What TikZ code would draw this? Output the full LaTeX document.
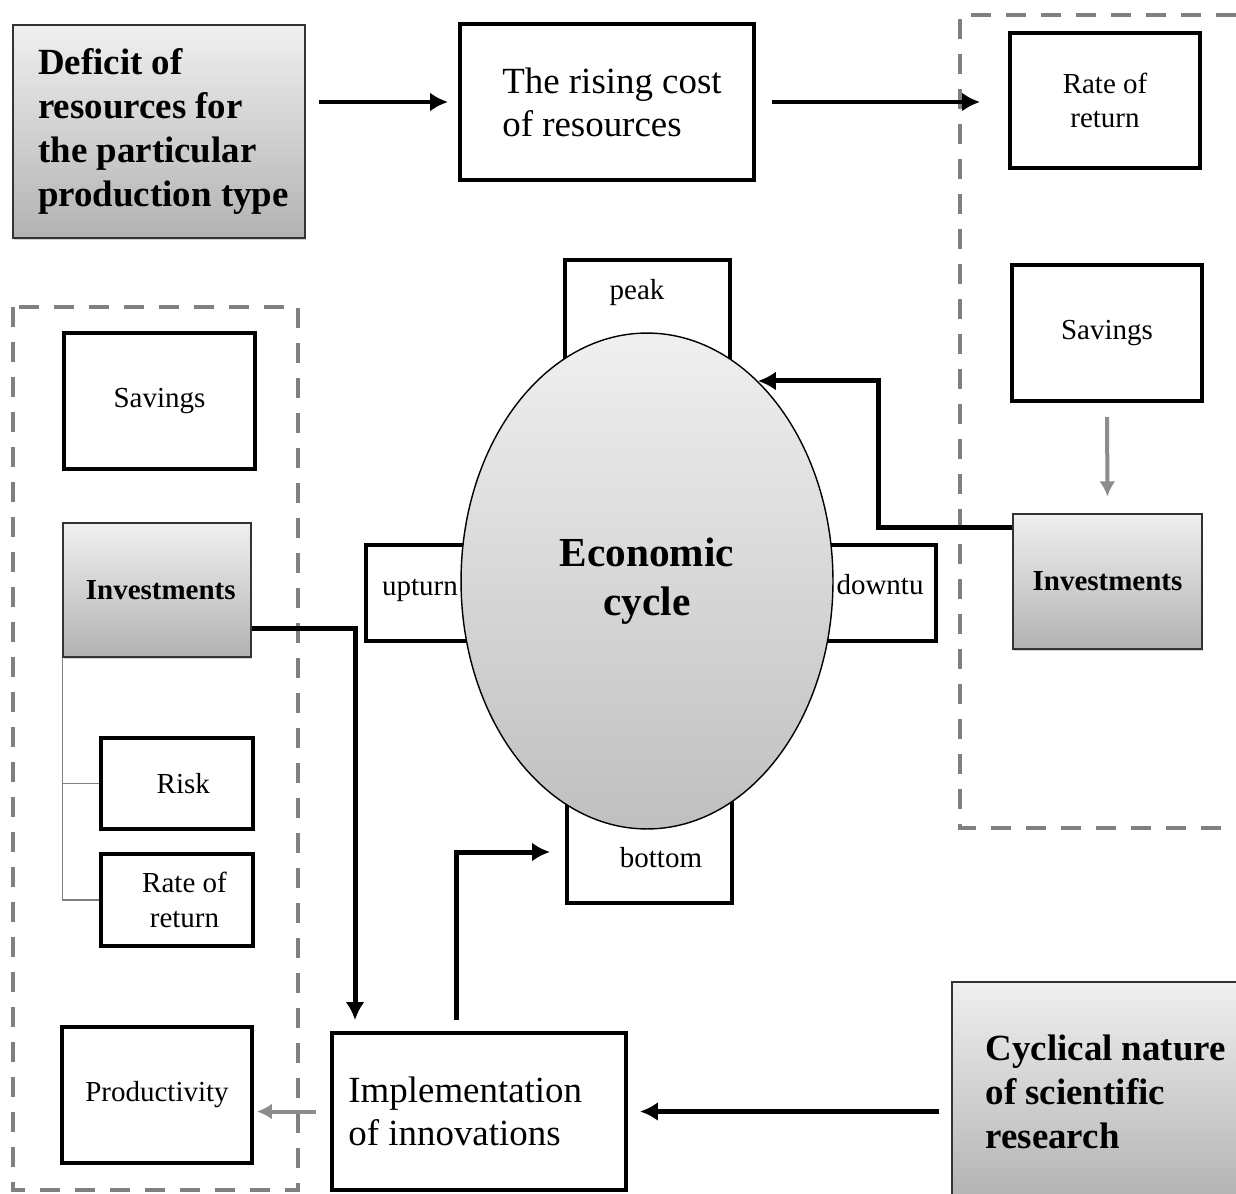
\documentclass[tikz,border=0pt]{standalone}
\usepackage{fontspec}
\setmainfont{Liberation Serif}
\usepackage{tikz}
\usetikzlibrary{shapes,arrows.meta,calc,shadows}
\tikzstyle{line} = [draw, line width=0.1cm, -{Latex[length=0.36cm,width=0.38cm]}]
\tikzstyle{greyline} = [draw=gray!90, line width=0.08cm, -{Latex[length=0.3cm,width=0.32cm]}]
\tikzstyle{block} = [draw, rectangle, line width=0.08cm, text centered, align=center, font=\fontsize{16.5}{19.5}\selectfont]
\tikzstyle{bigblock} = [block, align=left, font=\fontsize{21}{24.5}\selectfont]
\tikzstyle{shaded} = [draw=black!80, line width=0.7pt, rectangle, top color=gray!12, bottom color=gray!60, drop shadow={opacity=0.35, shadow xshift=0.8pt, shadow yshift=-1.2pt}, font=\bfseries\fontsize{16.5}{19.5}\selectfont]
\tikzstyle{bigshaded} = [shaded, align=left, font=\bfseries\fontsize{21}{25}\selectfont]
\tikzstyle{phase} = [draw, rectangle, line width=0.08cm]
\tikzstyle{phasetext} = [font=\fontsize{16.5}{19.5}\selectfont]
\tikzstyle{group} = [draw=gray, line width=0.08cm, dash pattern=on 0.4cm off 0.3cm]
\tikzstyle{branch} = [draw=gray, line width=0.6pt]

\begin{document}
\begin{tikzpicture}[x=0.02cm, y=-0.02cm]
        \useasboundingbox (0,0) rectangle (1236,1193);
        % dashed groups
        \draw[group] (1236,15) -- (960,15) -- (960,828) -- (1236,828);
        \draw[group] (13,307) rectangle (298,1190);
        % top row
        \node[bigshaded, minimum width=5.84cm, minimum height=4.26cm] (deficit) at (159,131.5) {\hspace*{0.18cm}Deficit of\\\hspace*{0.18cm}resources for\\\hspace*{0.18cm}the particular\\\hspace*{0.18cm}production type};
        \node[bigblock, minimum width=5.88cm, minimum height=3.12cm] (rising) at (607,102) {\hspace*{0.2cm}The rising cost\\\hspace*{0.2cm}of resources};
        % right group
        \node[block, minimum width=3.8cm, minimum height=2.7cm] (rateR) at (1105,100.5) {Rate of\\return};
        \node[block, minimum width=3.8cm, minimum height=2.72cm] (savR) at (1107,333) {Savings};
        \node[shaded, minimum width=3.78cm, minimum height=2.7cm] (invR) at (1107.5,581.5) {Investments};
        % cycle phases
        \node[phase, minimum width=3.3cm, minimum height=3.2cm] (peak) at (647.5,340) {};
        \node[phase, minimum width=3.08cm, minimum height=1.92cm] (upturn) at (443,593) {};
        \node[phase, minimum width=3.12cm, minimum height=1.92cm] (downturn) at (858,593) {};
        \node[phase, minimum width=3.3cm, minimum height=2.86cm] (bottom) at (649.5,831.5) {};
        \node[ellipse, draw, line width=0.8pt, top color=gray!12, bottom color=gray!50, inner sep=0pt, minimum width=7.44cm, minimum height=9.92cm, align=center, font=\bfseries\fontsize{23.5}{28}\selectfont] (econ) at (647,581) {Economic\\cycle};
        \node[phasetext] (peaklabel) at (637,293) {peak};
        \node[phasetext] (upturnlabel) at (420,590) {upturn};
        \node[phasetext] (downturnlabel) at (880,585) {downtu};
        \node[phasetext] (bottomlabel) at (661,858) {bottom};
        % left group
        \node[block, minimum width=3.82cm, minimum height=2.72cm] (savL) at (159.5,401) {Savings};
        \node[shaded, minimum width=3.76cm, minimum height=2.68cm] (invL) at (157,590) {\hspace*{0.15cm}Investments};
        \node[block, minimum width=3.04cm, minimum height=1.82cm] (risk) at (177,783.5) {\hspace*{0.25cm}Risk};
        \node[block, minimum width=3.04cm, minimum height=1.84cm] (rateL) at (177,900) {\hspace*{0.3cm}Rate of\\\hspace*{0.3cm}return};
        \node[block, minimum width=3.8cm, minimum height=2.72cm] (prod) at (157,1095) {Productivity};
        % bottom row
        \node[bigblock, minimum width=5.88cm, minimum height=3.14cm] (impl) at (479,1111.5) {Implementation\hspace*{0.55cm}\\of innovations};
        \node[bigshaded, minimum width=6cm, minimum height=4.4cm] (cyc) at (1102,1092) {\hspace*{0.15cm}Cyclical nature\\\hspace*{0.15cm}of scientific\\\hspace*{0.15cm}research};
        % connectors
        \path[line, shorten <=0.26cm, shorten >=0.2cm] (deficit.east |- rising.west) -- (rising.west);
        \path[line, shorten <=0.32cm, shorten >=0.56cm] (rising.east) -- (rising.east -| rateR.west);
        \path[greyline, shorten <=0.28cm, shorten >=0.34cm] (savR.south) -- (invR.north);
        \path[line] ([yshift=1.08cm]invR.west) -- ++(-2.68cm,0) |- (econ.61);
        \path[line, shorten >=0.22cm] ([yshift=-0.76cm]invL.east) -| ([xshift=-2.48cm]impl.north);
        \path[line, shorten <=0.22cm, shorten >=0.3cm] ([xshift=-0.46cm]impl.north) |- ([yshift=-0.41cm]bottom.west);
        \path[greyline, shorten <=0.28cm, shorten >=0.06cm] (impl.west) -- (impl.west -| prod.east);
        \path[line, shorten <=0.24cm, shorten >=0.24cm] (cyc.west |- impl.east) -- (impl.east);
        \draw[branch] (invL.south west) |- (risk.west);
        \draw[branch] (invL.south west) |- (rateL.west);
    \end{tikzpicture}
\end{document}
